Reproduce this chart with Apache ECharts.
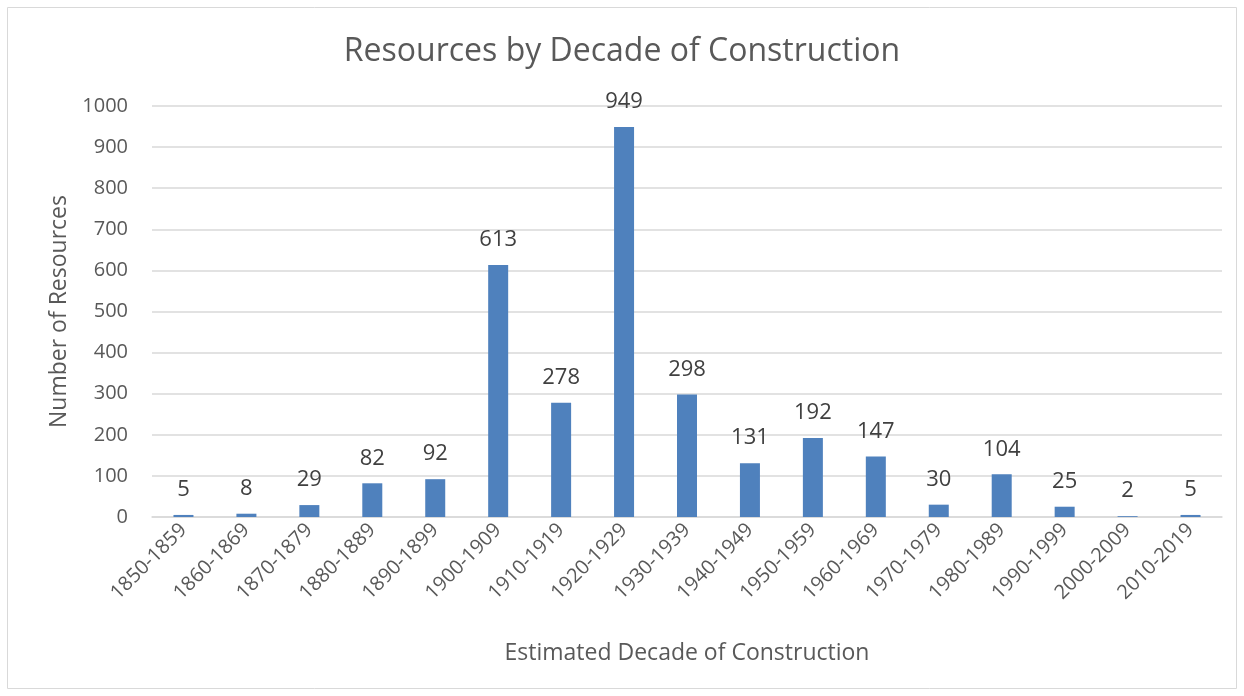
<!DOCTYPE html>
<html><head><meta charset="utf-8">
<script src="https://cdn.jsdelivr.net/npm/echarts@6/dist/echarts.min.js"></script>
<style>html,body{margin:0;padding:0;background:#fff}#c{width:1244px;height:696px}</style>
</head><body><div id="c"></div>
<script>
const categories = ['1850-1859','1860-1869','1870-1879','1880-1889','1890-1899','1900-1909','1910-1919','1920-1929','1930-1939','1940-1949','1950-1959','1960-1969','1970-1979','1980-1989','1990-1999','2000-2009','2010-2019'];
const counts = [5,8,29,82,92,613,278,949,298,131,192,147,30,104,25,2,5];
const titleText = 'Resources by Decade of Construction';
const xName = 'Estimated Decade of Construction';
const yName = 'Number of Resources';
const FONT = 'Open Sans';
const chart = echarts.init(document.getElementById('c'));
chart.setOption({
  animation:false,
  graphic:[{type:'rect',shape:{x:7.5,y:7.5,width:1229,height:681},style:{fill:'none',stroke:'#d9d9d9',lineWidth:1}}],
  title:{text:titleText,left:'center',top:31,textStyle:{fontFamily:FONT,fontSize:32,fontWeight:'normal',color:'#595959'}},
  grid:{left:152,right:22,top:106,bottom:179},
  xAxis:{type:'category',data:categories,
    name:xName,nameLocation:'middle',nameGap:125,
    nameTextStyle:{fontFamily:FONT,fontSize:23,color:'#595959'},
    axisLine:{lineStyle:{color:'#d9d9d9',width:1.5}},axisTick:{show:false},
    axisLabel:{rotate:45,interval:0,fontFamily:FONT,fontSize:20,color:'#595959',margin:10}},
  yAxis:{type:'value',min:0,max:1000,interval:100,
    name:yName,nameLocation:'middle',nameGap:80,
    nameTextStyle:{fontFamily:FONT,fontSize:23,color:'#595959'},
    axisLine:{show:false},axisTick:{show:false},
    axisLabel:{fontFamily:FONT,fontSize:20,color:'#595959',margin:24,formatter:v=>String(v)},
    splitLine:{lineStyle:{color:'#d9d9d9',width:1.5}}},
  series:[{type:'bar',data:counts,barWidth:20,
    itemStyle:{color:'#4f81bd'},
    label:{show:true,position:'top',distance:14,fontFamily:FONT,fontSize:22,color:'#404040'}}]
});
</script></body></html>
